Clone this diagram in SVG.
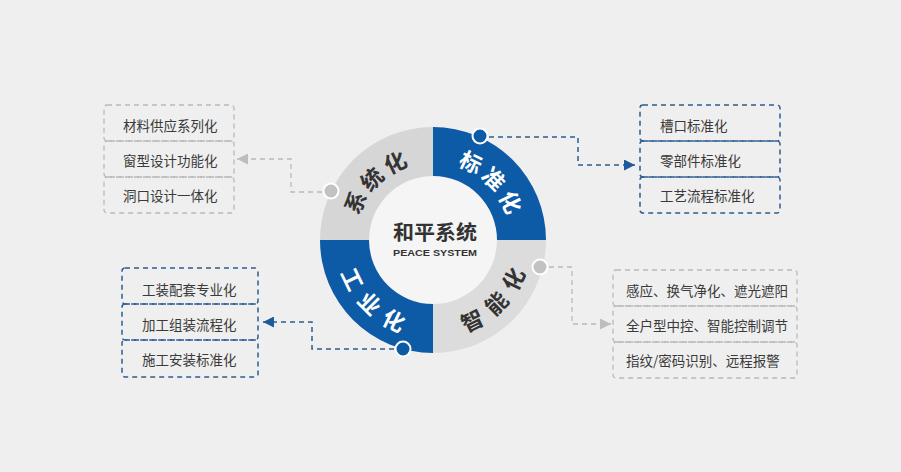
<svg xmlns="http://www.w3.org/2000/svg" width="901" height="472" viewBox="0 0 901 472">
  <style>
    .cjk { font-family: "Noto Sans CJK SC", "Noto Sans", sans-serif; }
    .seg-t { font-family: "Noto Sans CJK SC", sans-serif; font-size: 22px; font-weight: 700; text-anchor: middle; dominant-baseline: central; }
    .w { fill: #ffffff; }
    .d { fill: #333333; }
    .item { font-family: "Noto Sans CJK SC", sans-serif; font-size: 13.5px; fill: #3a3a3a; dominant-baseline: central; }
    .gbox { fill: none; stroke: #b9b9b9; stroke-width: 1.3; stroke-dasharray: 5 4; }
    .bbox { fill: none; stroke: #2d5d92; stroke-width: 1.5; stroke-dasharray: 5 4; }
    .gline { fill: none; stroke: #b9b9b9; stroke-width: 1.3; stroke-dasharray: 5 4; }
    .bline { fill: none; stroke: #2d5d92; stroke-width: 1.5; stroke-dasharray: 5 4; }
    .blue { fill: #0d5aa7; }
    .bdot { fill: #0d5aa7; stroke: #ffffff; stroke-width: 2; }
    .gdot { fill: #c2c2c2; stroke: #ffffff; stroke-width: 2; }
  </style>
  <defs>
    <marker id="arrB" viewBox="0 0 10 10" refX="10" refY="5" markerWidth="11" markerHeight="11" markerUnits="userSpaceOnUse" orient="auto">
      <path d="M0,0 L10,5 L0,10 z" fill="#1f5a9a"/>
    </marker>
    <marker id="arrG" viewBox="0 0 10 10" refX="10" refY="5" markerWidth="11" markerHeight="11" markerUnits="userSpaceOnUse" orient="auto">
      <path d="M0,0 L10,5 L0,10 z" fill="#bdbdbd"/>
    </marker>
  </defs>

  <rect x="0" y="0" width="901" height="472" fill="#efefef"/>

  <g id="connectors">
    <path class="gline" d="M331 192 H291 V159 H237" marker-end="url(#arrG)"/>
    <path class="bline" d="M480 137 H578 V165 H635" marker-end="url(#arrB)"/>
    <path class="bline" d="M403 349 H312 V322 H263" marker-end="url(#arrB)"/>
    <path class="gline" d="M540 267 H572 V324 H611" marker-end="url(#arrG)"/>
  </g>

  <g id="ring-center">
    <circle cx="433" cy="240" r="64" fill="#f5f5f5"/>
    <text x="435" y="240" class="cjk" font-size="20" font-weight="700" fill="#333333" text-anchor="middle" textLength="84" lengthAdjust="spacingAndGlyphs">和平系统</text>
    <text x="435" y="256" font-family="'Liberation Sans', Arial, sans-serif" font-size="9" font-weight="700" fill="#333333" text-anchor="middle" textLength="84" lengthAdjust="spacingAndGlyphs">PEACE SYSTEM</text>
  </g>

  <g id="seg-xitonghua">
    <path d="M320 240 A113 113 0 0 1 433 127 L433 176 A64 64 0 0 0 369 240 Z" fill="#d6d6d6"/>
    <text class="seg-t d" transform="translate(353.9 201.4) rotate(-64)">系</text>
    <text class="seg-t d" transform="translate(370.8 177.8) rotate(-45)">统</text>
    <text class="seg-t d" transform="translate(394.4 160.9) rotate(-26)">化</text>
    <circle class="gdot" cx="331" cy="191" r="7.5"/>
  </g>

  <g id="seg-biaozhunhua">
    <path class="blue" d="M433 127 A113 113 0 0 1 546 240 L497 240 A64 64 0 0 0 433 176 Z"/>
    <text class="seg-t w" transform="translate(471.6 160.9) rotate(26)">标</text>
    <text class="seg-t w" transform="translate(495.2 177.8) rotate(45)">准</text>
    <text class="seg-t w" transform="translate(512.1 201.4) rotate(64)">化</text>
    <circle class="bdot" cx="480" cy="136" r="7.5"/>
  </g>

  <g id="seg-zhinenghua">
    <path d="M546 240 A113 113 0 0 1 433 353 L433 304 A64 64 0 0 0 497 240 Z" fill="#dcdcdc"/>
    <text class="seg-t d" transform="translate(471.6 319.1) rotate(-26)">智</text>
    <text class="seg-t d" transform="translate(495.2 302.2) rotate(-45)">能</text>
    <text class="seg-t d" transform="translate(512.1 278.6) rotate(-64)">化</text>
    <circle class="gdot" cx="540" cy="267" r="7.5"/>
  </g>

  <g id="seg-gongyehua">
    <path class="blue" d="M433 353 A113 113 0 0 1 320 240 L369 240 A64 64 0 0 0 433 304 Z"/>
    <text class="seg-t w" transform="translate(353.9 278.6) rotate(64)">工</text>
    <text class="seg-t w" transform="translate(370.8 302.2) rotate(45)">业</text>
    <text class="seg-t w" transform="translate(394.4 319.1) rotate(26)">化</text>
    <circle class="bdot" cx="403" cy="349" r="7.5"/>
  </g>

  <g id="box-xitonghua">
    <rect class="gbox" x="104" y="105" width="130" height="36" rx="3"/>
    <rect class="gbox" x="104" y="141" width="130" height="36" rx="3"/>
    <rect class="gbox" x="104" y="177" width="130" height="36" rx="3"/>
    <text class="item" x="123" y="125">材料供应系列化</text>
    <text class="item" x="123" y="160">窗型设计功能化</text>
    <text class="item" x="123" y="195">洞口设计一体化</text>
  </g>

  <g id="box-biaozhunhua">
    <rect class="bbox" x="640" y="105" width="140" height="36" rx="3"/>
    <rect class="bbox" x="640" y="141" width="140" height="36" rx="3"/>
    <rect class="bbox" x="640" y="177" width="140" height="36" rx="3"/>
    <text class="item" x="660" y="125">槽口标准化</text>
    <text class="item" x="660" y="160">零部件标准化</text>
    <text class="item" x="660" y="195">工艺流程标准化</text>
  </g>

  <g id="box-gongyehua">
    <rect class="bbox" x="122" y="268" width="136" height="36" rx="3"/>
    <rect class="bbox" x="122" y="304" width="136" height="36" rx="3"/>
    <rect class="bbox" x="122" y="340" width="136" height="37" rx="3"/>
    <text class="item" x="142" y="289">工装配套专业化</text>
    <text class="item" x="142" y="324">加工组装流程化</text>
    <text class="item" x="142" y="359">施工安装标准化</text>
  </g>

  <g id="box-zhinenghua">
    <rect class="gbox" x="613" y="270" width="184" height="36" rx="3"/>
    <rect class="gbox" x="613" y="306" width="184" height="36" rx="3"/>
    <rect class="gbox" x="613" y="342" width="184" height="36" rx="3"/>
    <text class="item" x="626" y="290">感应、换气净化、遮光遮阳</text>
    <text class="item" x="626" y="325">全户型中控、智能控制调节</text>
    <text class="item" x="626" y="360">指纹/密码识别、远程报警</text>
  </g>
</svg>
